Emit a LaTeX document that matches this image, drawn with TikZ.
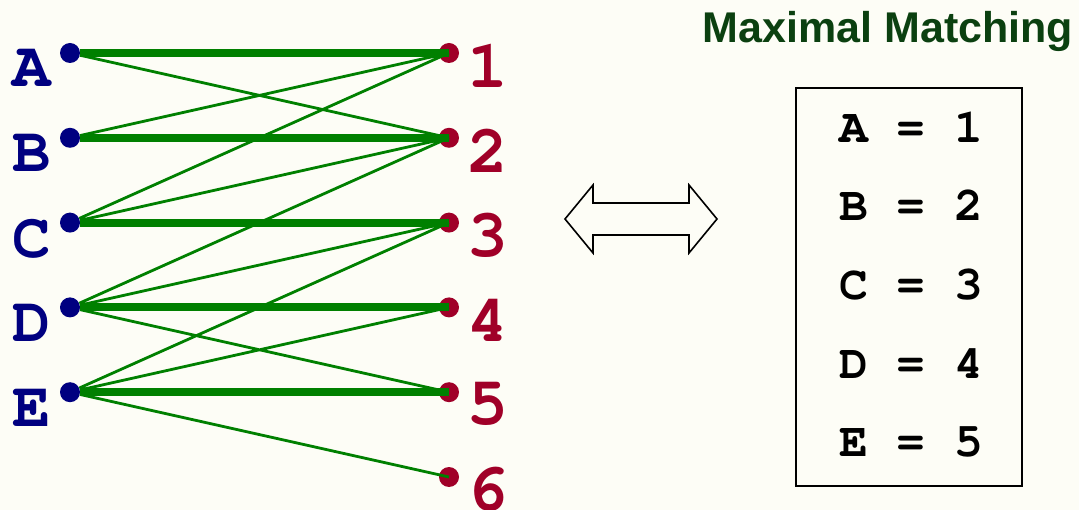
\documentclass[tikz,border=0pt]{standalone}
\usepackage{fontspec}
\usepackage[T1,TU]{fontenc}
\usetikzlibrary{shapes.geometric}
\newfontfamily\helvfont{Liberation Sans}
\newcommand\courbold{\fontencoding{T1}\fontfamily{pcr}\fontseries{b}\fontshape{n}\selectfont}
\definecolor{bgcream}{HTML}{FDFDF6}
\definecolor{leftblue}{HTML}{000080}
\definecolor{rightred}{HTML}{A00028}
\definecolor{edgegreen}{HTML}{008000}
\definecolor{titlegreen}{HTML}{0B4010}
\tikzset{
  lft/.style={circle, fill=leftblue, inner sep=0pt, minimum size=20pt},
  rgt/.style={circle, fill=rightred, inner sep=0pt, minimum size=20pt},
  lblL/.style={text=leftblue, font=\fontsize{64}{64}\courbold, inner sep=0pt},
  lblR/.style={text=rightred, font=\fontsize{68}{68}\courbold, inner sep=0pt},
  pair/.style={font=\fontsize{48}{48}\courbold, inner sep=0pt},
  matched/.style={draw=edgegreen, line width=8pt},
  other/.style={draw=edgegreen, line width=2.8pt}
}

\begin{document}
\begin{tikzpicture}[x=1pt, y=-1pt, node distance=84.8pt]
  \fill [bgcream] (0,0) rectangle (1079,510);
  \useasboundingbox (0,0) rectangle (1079,510);
  % left side
  \node (A) [lft] at (70,53) {};
  \node (B) [lft, below of=A] {};
  \node (C) [lft, below of=B] {};
  \node (D) [lft, below of=C] {};
  \node (E) [lft, below of=D] {};
  % right side
  \node (n1) [rgt] at (449,53) {};
  \node (n2) [rgt, below of=n1] {};
  \node (n3) [rgt, below of=n2] {};
  \node (n4) [rgt, below of=n3] {};
  \node (n5) [rgt, below of=n4] {};
  \node (n6) [rgt, below of=n5] {};
  % labels
  \node (tA) [lblL] at ([xshift=-38pt, yshift=-16pt]A) {A};
  \node (tB) [lblL] at ([xshift=-38pt, yshift=-16pt]B) {B};
  \node (tC) [lblL] at ([xshift=-38pt, yshift=-16pt]C) {C};
  \node (tD) [lblL] at ([xshift=-38pt, yshift=-16pt]D) {D};
  \node (tE) [lblL] at ([xshift=-38pt, yshift=-16pt]E) {E};
  \node (t1) [lblR] at ([xshift=39pt, yshift=-13pt]n1) {1};
  \node (t2) [lblR] at ([xshift=39pt, yshift=-13pt]n2) {2};
  \node (t3) [lblR] at ([xshift=39pt, yshift=-13pt]n3) {3};
  \node (t4) [lblR] at ([xshift=39pt, yshift=-13pt]n4) {4};
  \node (t5) [lblR] at ([xshift=39pt, yshift=-13pt]n5) {5};
  \node (t6) [lblR] at ([xshift=39pt, yshift=-13pt]n6) {6};
  % edges
  \draw [other] (A) -- (n2.center) (B) -- (n1.center)
    (C) -- (n1.center) (C) -- (n2.center)
    (D) -- (n2.center) (D) -- (n3.center) (D) -- (n5.center)
    (E) -- (n3.center) (E) -- (n4.center) (E) -- (n6.center);
  \draw [matched] (A.east) -- (n1.center);
  \draw [matched] (B.east) -- (n2.center);
  \draw [matched] (C.east) -- (n3.center);
  \draw [matched] (D.east) -- (n4.center);
  \draw [matched] (E.east) -- (n5.center);
  % the result
  \node (title) [anchor=base, text=titlegreen, inner sep=0pt,
    font=\helvfont\bfseries\fontsize{43}{43}\selectfont] at (888,43) {Maximal Matching};
  \draw [line width=1.6pt] (565,219) -- (593,185) -- (593,203) -- (689,203)
    -- (689,185) -- (717,219) -- (689,253) -- (689,235) -- (593,235)
    -- (593,253) -- cycle;
  \node (res) [draw, line width=2pt, minimum width=226pt, minimum height=398pt] at (909,287) {};
  \node (m1) [pair] at (911,127) {A = 1};
  \node (m2) [pair, below of=m1, node distance=78.8pt] {B = 2};
  \node (m3) [pair, below of=m2, node distance=78.8pt] {C = 3};
  \node (m4) [pair, below of=m3, node distance=78.8pt] {D = 4};
  \node (m5) [pair, below of=m4, node distance=78.8pt] {E = 5};
\end{tikzpicture}
\end{document}
